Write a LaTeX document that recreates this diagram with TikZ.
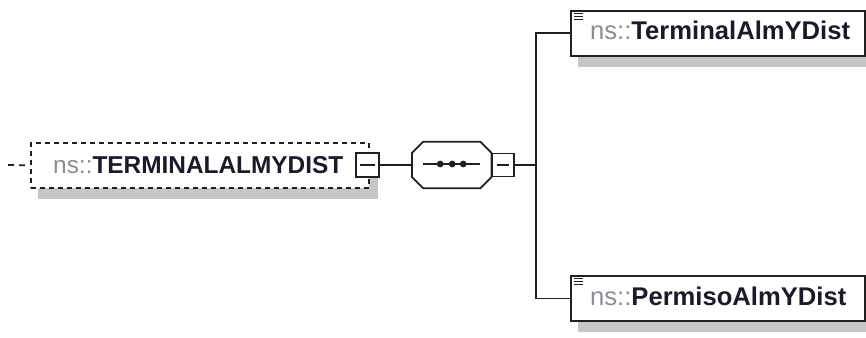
\documentclass[tikz,border=0pt]{standalone}
\usepackage{fontspec}
\setmainfont{Liberation Sans}
\usetikzlibrary{backgrounds,calc}
\definecolor{shadowc}{HTML}{C6C6C6}
\definecolor{nsgray}{HTML}{8C8C96}
\definecolor{txt}{HTML}{1A1A28}
\definecolor{linec}{HTML}{202020}
\begin{document}
\begin{tikzpicture}[x=1pt,y=-1pt,
  box/.style={draw=linec, line width=1.8pt, fill=white, inner sep=0pt},
  lbl/.style={text=txt, inner sep=0pt, anchor=base west},
  rootfont/.style={font=\fontsize{24.4}{28}\selectfont},
  childfont/.style={font=\fontsize{25.6}{30}\selectfont},
  conn/.style={draw=linec, line width=1.8pt},
  shade/.style={fill=shadowc},
  icon/.style={draw=linec, line width=1.6pt}]
\useasboundingbox (0,0) rectangle (866,337);

% root element (optional -> dashed)
\node[box, dash pattern=on 5pt off 4pt, minimum width=338, minimum height=45, anchor=north west] (root) at (30,142) {};
\node[lbl, rootfont] (roottxt) at (53,173) {\textcolor{nsgray}{ns::}\textbf{TERMINALALMYDIST}};
\node[box, minimum width=23, minimum height=24] (rootm) at (367.5,165) {};
\draw[conn] ([xshift=-7.5]rootm.center) -- ([xshift=7.5]rootm.center);
\coordinate (lstart) at (8,165);
\draw[conn, dash pattern=on 6pt off 5pt] (lstart) -- (root.west);

% sequence compositor
\node[minimum width=79, minimum height=46, inner sep=0pt, anchor=west] (seq) at (412,165) {};
\draw[box] ($(seq.north west)+(11,0)$) -- ($(seq.north east)+(-11,0)$) -- ($(seq.north east)+(0,11)$)
  -- ($(seq.south east)+(0,-11)$) -- ($(seq.south east)+(-11,0)$) -- ($(seq.south west)+(11,0)$)
  -- ($(seq.south west)+(0,-11)$) -- ($(seq.north west)+(0,11)$) -- cycle;
\draw[conn] ($(seq.center)+(-28.5,-1)$) -- ($(seq.center)+(28.5,-1)$);
\foreach \dx in {-11.5,0.5,11.5} \fill[linec] ($(seq.center)+(\dx,-1)$) circle (3.4);
\node[box, minimum width=22, minimum height=23, anchor=west] (seqm) at (seq.east) {};
\draw[conn] ([xshift=-6]seqm.center) -- ([xshift=6]seqm.center);

\draw[conn] (rootm.east) -- (seq.west);
\coordinate (jn) at (536,165);
\draw[conn] (seqm.east) -- (jn);

% child elements
\node[box, minimum width=294, minimum height=45, anchor=north west] (c1) at (570,10) {};
\node[lbl, childfont] (t1) at (590,40) {\textcolor{nsgray}{ns::}\textbf{TerminalAlmYDist}};
\node[box, minimum width=294, minimum height=45, anchor=north west] (c2) at (570,275) {};
\node[lbl, childfont] (t2) at (590,305) {\textcolor{nsgray}{ns::}\textbf{PermisoAlmYDist}};
\foreach \b in {c1,c2}{
  \foreach \dy in {3.5,6.5,9.5}
    \draw[icon] ($(\b.north west)+(4,\dy)$) -- ($(\b.north west)+(13,\dy)$);
}
\draw[conn] (c1.west) -| (jn);
\draw[conn] (c2.west) -| (jn);

% shadows
\begin{scope}[on background layer]
\fill[shade] ($(root.north west)+(8,10)$) rectangle ($(root.south east)+(8,10)$);
\fill[shade] ($(c1.north west)+(8,10)$) rectangle ($(c1.south east)+(8,10)$);
\fill[shade] ($(c2.north west)+(8,10)$) rectangle ($(c2.south east)+(8,10)$);
\fill[shade, shift={(8,9)}] ($(seq.north west)+(11,0)$) -- ($(seq.north east)+(-11,0)$) -- ($(seq.north east)+(0,11)$)
  -- ($(seq.south east)+(0,-11)$) -- ($(seq.south east)+(-11,0)$) -- ($(seq.south west)+(11,0)$)
  -- ($(seq.south west)+(0,-11)$) -- ($(seq.north west)+(0,11)$) -- cycle;
\end{scope}
\end{tikzpicture}
\end{document}
